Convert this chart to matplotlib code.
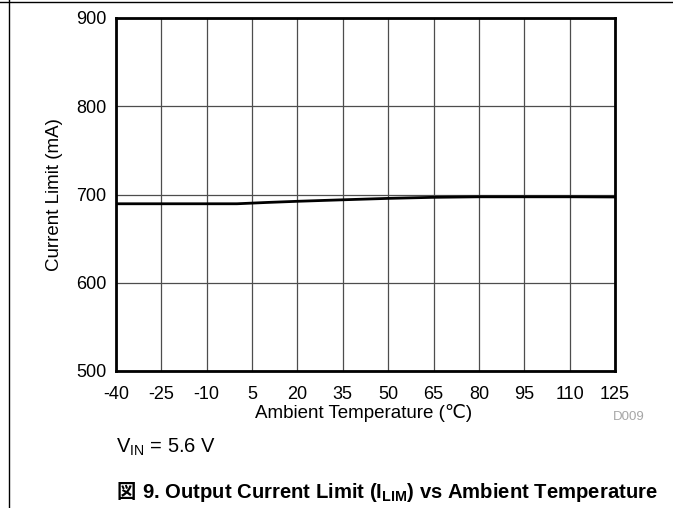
import matplotlib
matplotlib.use("Agg")
import matplotlib.pyplot as plt
from matplotlib.lines import Line2D

plt.rcParams['font.family'] = ['Liberation Sans', 'DejaVu Sans']
plt.rcParams['axes.unicode_minus'] = False
plt.rcParams['mathtext.fontset'] = 'custom'
plt.rcParams['mathtext.rm'] = 'Liberation Sans'
plt.rcParams['mathtext.it'] = 'Liberation Sans'
plt.rcParams['mathtext.bf'] = 'Liberation Sans:bold'

# Data
temperature = [-40, -25, -10, 0, 10, 20, 35, 50, 65, 80, 95, 110, 125]
current_limit = [689.5, 689.5, 689.5, 689.5, 691.0, 692.3, 694.0, 695.6, 696.8, 697.4, 697.4, 697.4, 697.2]
xticks = [-40, -25, -10, 5, 20, 35, 50, 65, 80, 95, 110, 125]
yticks = [500, 600, 700, 800, 900]

W, H = 673, 508
fig = plt.figure(figsize=(W / 100, H / 100), dpi=100)
L, R, T, B = 116, 615, 18, 371
ax = fig.add_axes([L / W, 1 - B / H, (R - L) / W, (B - T) / H])

ax.plot(temperature, current_limit, color='black', lw=2.0, zorder=3)
ax.set_xlim(-40, 125)
ax.set_ylim(500, 900)
ax.set_xticks(xticks)
ax.set_yticks(yticks)
ax.tick_params(axis='both', length=0, labelsize=13, colors='black')
ax.tick_params(axis='x', pad=11)
ax.tick_params(axis='y', pad=7)
ax.grid(True, color='#4d4d4d', lw=0.9)
for s in ax.spines.values():
    s.set_linewidth(2.0)
    s.set_color('black')

fig.text(364 / W, 1 - 413 / H, 'Ambient Temperature (℃)', fontsize=13.5, ha='center', va='center')
fig.text(55 / W, 1 - (T + B) / 2 / H, 'Current Limit (mA)', fontsize=13.5, rotation=90,
         ha='center', va='center')

fig.text(629 / W, 1 - 417 / H, 'D009', fontsize=9.5, color='#a6a6a6', ha='center', va='center')
fig.text(116 / W, 1 - 447 / H, r'V$_\mathregular{IN}$ = 5.6 V', fontsize=14.5, ha='left', va='center')

# Caption
cjk = fig.text(117 / W, 1 - 492 / H, '図', fontsize=13.8, fontweight='bold',
               family=['Noto Sans CJK JP'], ha='left', va='center')
fig.canvas.draw()
bb = cjk.get_window_extent()
fig.text((bb.x1 + 6) / W, 1 - 492 / H,
         r'9. Output Current Limit (I$_\mathbf{LIM}$) vs Ambient Temperature',
         fontsize=14.6, fontweight='bold', ha='left', va='center')

# Page frame lines
fig.add_artist(Line2D([0, 1], [1 - 1.5 / H, 1 - 1.5 / H], transform=fig.transFigure, color='black', lw=1))
fig.add_artist(Line2D([8.5 / W, 8.5 / W], [0, 1], transform=fig.transFigure, color='black', lw=1))

fig.savefig('out.png', dpi=100)
